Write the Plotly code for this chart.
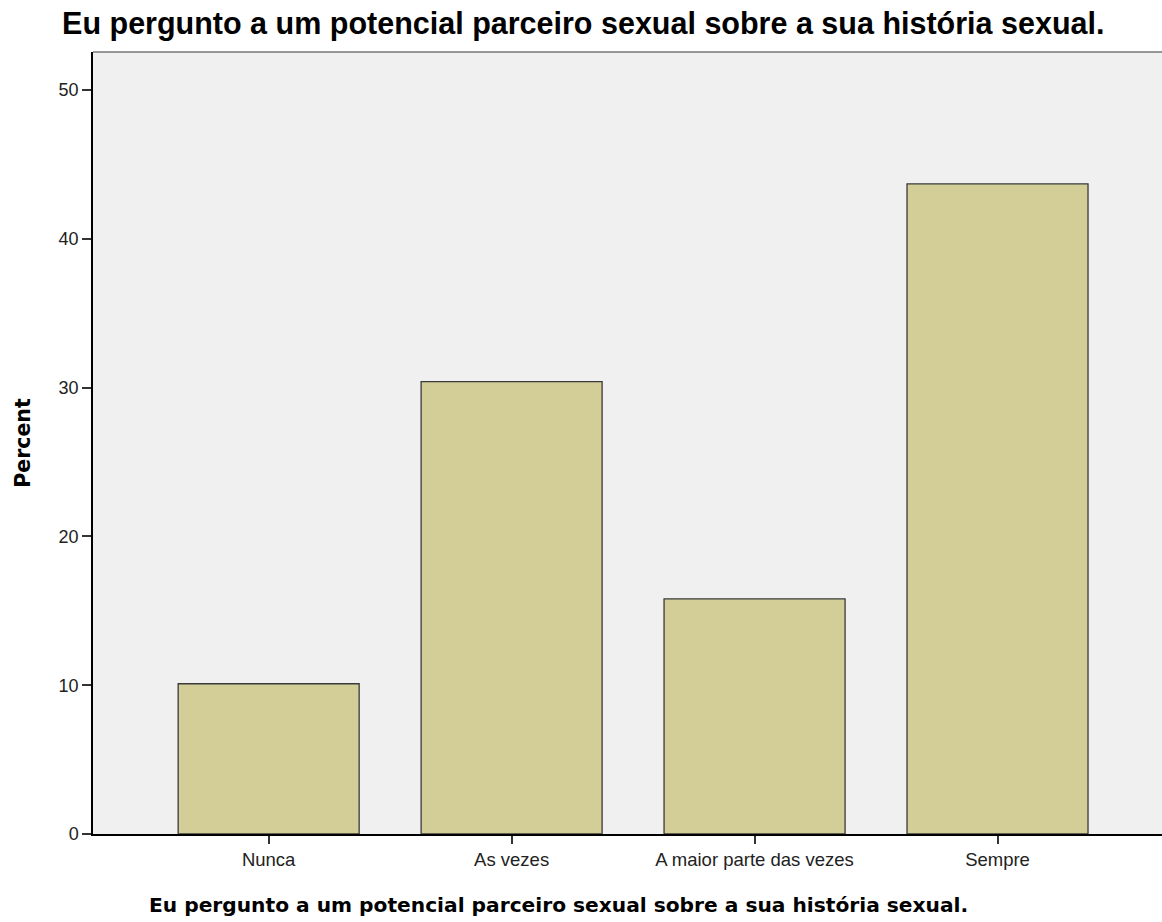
import plotly.graph_objects as go

categories = ["Nunca", "As vezes", "A maior parte das vezes", "Sempre"]
percent = [10.1, 30.4, 15.8, 43.7]
y_ticks = [0, 10, 20, 30, 40, 50]

title_text = "Eu pergunto a um potencial parceiro sexual sobre a sua história sexual."

fig = go.Figure()
fig.add_trace(go.Bar(
    x=categories, y=percent,
    marker=dict(color="#D3CE97", line=dict(color="#3a3a3a", width=1.3)),
))

fig.update_layout(
    width=1162, height=922,
    margin=dict(l=93, r=0, t=52, b=88),
    paper_bgcolor="white", plot_bgcolor="#F0F0F0",
    bargap=0.255, showlegend=False,
    font=dict(family="Liberation Sans, Arial", color="#222"),
    title=dict(text="<b>" + title_text + "</b>", x=0.0534, xanchor="left",
               y=0.975, yanchor="middle",
               font=dict(size=30.5, color="black")),
)
fig.update_xaxes(
    range=[-0.723, 3.677], showline=True, linecolor="black", linewidth=1.5,
    ticks="outside", ticklen=8, tickcolor="#333", tickwidth=1.5,
    tickfont=dict(size=18.5, color="#222"), showgrid=False,
)
fig.update_yaxes(
    range=[0, 52.56], tickvals=y_ticks, showline=True, linecolor="black", linewidth=1.5,
    ticks="outside", ticklen=9, tickcolor="#333", tickwidth=1.5,
    tickfont=dict(size=18, color="#222"), showgrid=False, zeroline=False,
    title=dict(text="<b>Percent</b>", standoff=22,
               font=dict(family="DejaVu Sans, Verdana", size=20.5, color="black")),
)
# x axis title, placed off-centre like the original
fig.add_annotation(text="<b>" + title_text + "</b>", xref="paper", yref="paper",
                   x=0.435, y=-0.0908, xanchor="center", yanchor="middle",
                   showarrow=False,
                   font=dict(family="DejaVu Sans, Verdana", size=20.2, color="black"))
# thin gray frame line along the top of the plot area
fig.add_shape(type="line", xref="paper", yref="paper", x0=0, x1=1, y0=1, y1=1,
              line=dict(color="#777", width=1.5))

# drop the default page margin so the figure fills the window, no modebar
fig.write_html("out.html", config={"displayModeBar": False},
               post_script="document.body.style.margin='0';")
